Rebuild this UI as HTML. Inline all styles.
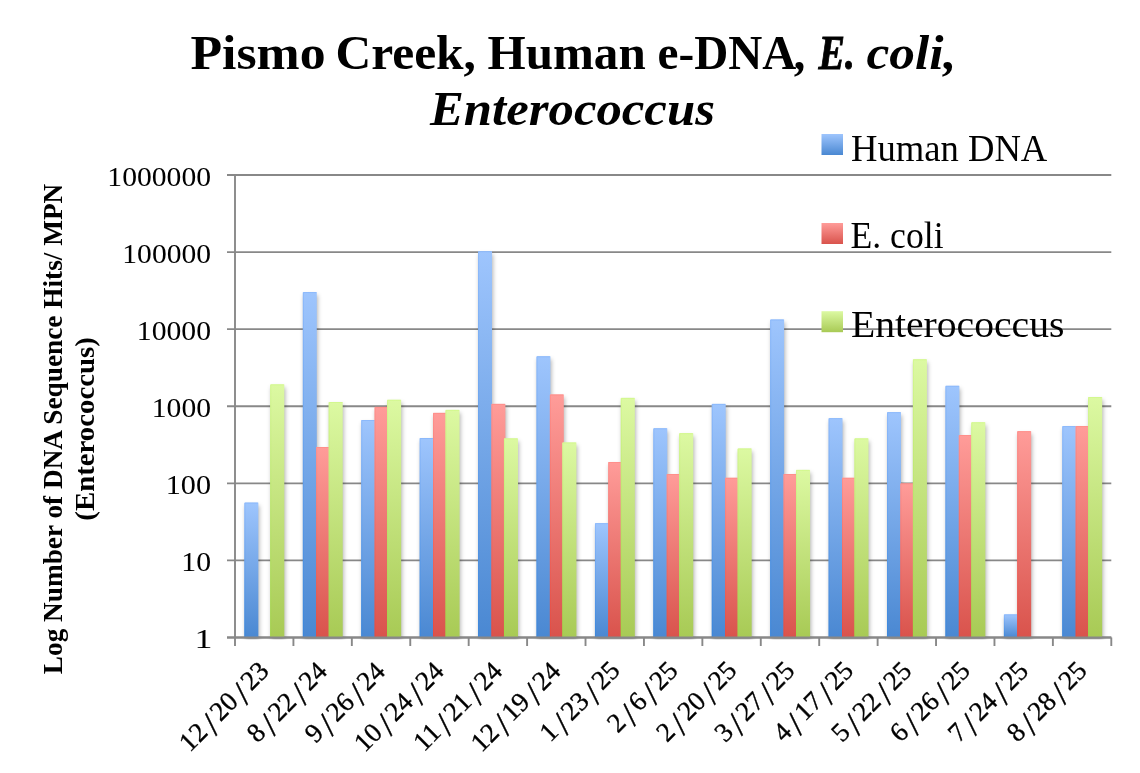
<!DOCTYPE html><html><head><meta charset="utf-8"><style>html,body{margin:0;padding:0;background:#fff;width:1140px;height:773px;overflow:hidden}svg{display:block;will-change:transform;filter:blur(0.45px)}text{font-family:"Liberation Serif",serif;fill:#000}</style></head><body>
<svg width="1140" height="773" viewBox="0 0 1140 773">
<defs>
<linearGradient id="gb" x1="0" y1="0" x2="0" y2="1"><stop offset="0" stop-color="#9ec5fd"/><stop offset="1" stop-color="#4a88d2"/></linearGradient>
<linearGradient id="gr" x1="0" y1="0" x2="0" y2="1"><stop offset="0" stop-color="#ff9c99"/><stop offset="1" stop-color="#d9534c"/></linearGradient>
<linearGradient id="gg" x1="0" y1="0" x2="0" y2="1"><stop offset="0" stop-color="#dcf9a2"/><stop offset="1" stop-color="#a8ca55"/></linearGradient>
<linearGradient id="sb" x1="0" y1="0" x2="0" y2="1"><stop offset="0" stop-color="#8cb9fb"/><stop offset="1" stop-color="#3a86dc"/></linearGradient>
<linearGradient id="sr" x1="0" y1="0" x2="0" y2="1"><stop offset="0" stop-color="#ff8f8b"/><stop offset="1" stop-color="#e64a40"/></linearGradient>
<linearGradient id="sg" x1="0" y1="0" x2="0" y2="1"><stop offset="0" stop-color="#d3f88f"/><stop offset="1" stop-color="#a0d248"/></linearGradient>
<filter id="sh" x="-60%" y="-10%" width="220%" height="120%"><feGaussianBlur in="SourceAlpha" stdDeviation="2.3"/><feOffset dx="1.0" dy="2.5" result="b"/><feFlood flood-color="#000" flood-opacity="0.3"/><feComposite in2="b" operator="in"/></filter>
<clipPath id="cp"><rect x="0" y="0" width="1140" height="639.50"/></clipPath>
</defs>
<rect width="1140" height="773" fill="#fff"/>
<line x1="227" y1="637.50" x2="1111.30" y2="637.50" stroke="#888" stroke-width="1.9"/>
<line x1="227" y1="560.42" x2="1111.30" y2="560.42" stroke="#888" stroke-width="1.9"/>
<line x1="227" y1="483.33" x2="1111.30" y2="483.33" stroke="#888" stroke-width="1.9"/>
<line x1="227" y1="406.25" x2="1111.30" y2="406.25" stroke="#888" stroke-width="1.9"/>
<line x1="227" y1="329.17" x2="1111.30" y2="329.17" stroke="#888" stroke-width="1.9"/>
<line x1="227" y1="252.08" x2="1111.30" y2="252.08" stroke="#888" stroke-width="1.9"/>
<line x1="227" y1="175.00" x2="1111.30" y2="175.00" stroke="#888" stroke-width="1.9"/>
<g clip-path="url(#cp)"><g filter="url(#sh)">
<rect x="244.45" y="502.60" width="13.90" height="134.90"/>
<rect x="270.30" y="384.40" width="14.00" height="253.10"/>
<rect x="302.87" y="292.10" width="13.90" height="345.40"/>
<rect x="316.22" y="447.00" width="13.90" height="190.50"/>
<rect x="328.72" y="402.00" width="14.00" height="235.50"/>
<rect x="361.29" y="420.00" width="13.90" height="217.50"/>
<rect x="374.64" y="406.90" width="13.90" height="230.60"/>
<rect x="387.14" y="399.80" width="14.00" height="237.70"/>
<rect x="419.71" y="438.00" width="13.90" height="199.50"/>
<rect x="433.06" y="412.90" width="13.90" height="224.60"/>
<rect x="445.56" y="409.90" width="14.00" height="227.60"/>
<rect x="478.13" y="251.25" width="13.90" height="386.25"/>
<rect x="491.48" y="403.90" width="13.90" height="233.60"/>
<rect x="503.98" y="438.40" width="14.00" height="199.10"/>
<rect x="536.55" y="356.30" width="13.90" height="281.20"/>
<rect x="549.90" y="394.50" width="13.90" height="243.00"/>
<rect x="562.40" y="442.50" width="14.00" height="195.00"/>
<rect x="594.97" y="523.20" width="13.90" height="114.30"/>
<rect x="608.32" y="462.00" width="13.90" height="175.50"/>
<rect x="620.82" y="397.90" width="14.00" height="239.60"/>
<rect x="653.39" y="428.30" width="13.90" height="209.20"/>
<rect x="666.74" y="474.00" width="13.90" height="163.50"/>
<rect x="679.24" y="433.20" width="14.00" height="204.30"/>
<rect x="711.81" y="403.90" width="13.90" height="233.60"/>
<rect x="725.16" y="477.80" width="13.90" height="159.70"/>
<rect x="737.66" y="448.50" width="14.00" height="189.00"/>
<rect x="770.23" y="319.50" width="13.90" height="318.00"/>
<rect x="783.58" y="474.00" width="13.90" height="163.50"/>
<rect x="796.08" y="469.90" width="14.00" height="167.60"/>
<rect x="828.65" y="418.20" width="13.90" height="219.30"/>
<rect x="842.00" y="477.80" width="13.90" height="159.70"/>
<rect x="854.50" y="438.40" width="14.00" height="199.10"/>
<rect x="887.07" y="412.20" width="13.90" height="225.30"/>
<rect x="900.42" y="483.40" width="13.90" height="154.10"/>
<rect x="912.92" y="359.30" width="14.00" height="278.20"/>
<rect x="945.49" y="385.80" width="13.90" height="251.70"/>
<rect x="958.84" y="435.00" width="13.90" height="202.50"/>
<rect x="971.34" y="422.30" width="14.00" height="215.20"/>
<rect x="1003.91" y="614.40" width="13.90" height="23.10"/>
<rect x="1017.26" y="431.20" width="13.90" height="206.30"/>
<rect x="1062.33" y="426.10" width="13.90" height="211.40"/>
<rect x="1075.68" y="426.10" width="13.90" height="211.40"/>
<rect x="1088.18" y="397.00" width="14.00" height="240.50"/>
</g></g>
<rect x="244.45" y="502.60" width="13.90" height="134.90" fill="url(#gb)"/>
<path d="M244.95,637.50V503.10H257.85" fill="none" stroke="url(#sb)" stroke-width="1"/>
<rect x="270.30" y="384.40" width="14.00" height="253.10" fill="url(#gg)"/>
<path d="M270.80,637.50V384.90H283.80" fill="none" stroke="url(#sg)" stroke-width="1"/>
<rect x="302.87" y="292.10" width="13.90" height="345.40" fill="url(#gb)"/>
<path d="M303.37,637.50V292.60H316.27" fill="none" stroke="url(#sb)" stroke-width="1"/>
<rect x="316.22" y="447.00" width="13.90" height="190.50" fill="url(#gr)"/>
<path d="M316.72,637.50V447.50H329.62" fill="none" stroke="url(#sr)" stroke-width="1"/>
<rect x="328.72" y="402.00" width="14.00" height="235.50" fill="url(#gg)"/>
<path d="M329.22,637.50V402.50H342.22" fill="none" stroke="url(#sg)" stroke-width="1"/>
<rect x="361.29" y="420.00" width="13.90" height="217.50" fill="url(#gb)"/>
<path d="M361.79,637.50V420.50H374.69" fill="none" stroke="url(#sb)" stroke-width="1"/>
<rect x="374.64" y="406.90" width="13.90" height="230.60" fill="url(#gr)"/>
<path d="M375.14,637.50V407.40H388.04" fill="none" stroke="url(#sr)" stroke-width="1"/>
<rect x="387.14" y="399.80" width="14.00" height="237.70" fill="url(#gg)"/>
<path d="M387.64,637.50V400.30H400.64" fill="none" stroke="url(#sg)" stroke-width="1"/>
<rect x="419.71" y="438.00" width="13.90" height="199.50" fill="url(#gb)"/>
<path d="M420.21,637.50V438.50H433.11" fill="none" stroke="url(#sb)" stroke-width="1"/>
<rect x="433.06" y="412.90" width="13.90" height="224.60" fill="url(#gr)"/>
<path d="M433.56,637.50V413.40H446.46" fill="none" stroke="url(#sr)" stroke-width="1"/>
<rect x="445.56" y="409.90" width="14.00" height="227.60" fill="url(#gg)"/>
<path d="M446.06,637.50V410.40H459.06" fill="none" stroke="url(#sg)" stroke-width="1"/>
<rect x="478.13" y="251.25" width="13.90" height="386.25" fill="url(#gb)"/>
<path d="M478.63,637.50V251.75H491.53" fill="none" stroke="url(#sb)" stroke-width="1"/>
<rect x="491.48" y="403.90" width="13.90" height="233.60" fill="url(#gr)"/>
<path d="M491.98,637.50V404.40H504.88" fill="none" stroke="url(#sr)" stroke-width="1"/>
<rect x="503.98" y="438.40" width="14.00" height="199.10" fill="url(#gg)"/>
<path d="M504.48,637.50V438.90H517.48" fill="none" stroke="url(#sg)" stroke-width="1"/>
<rect x="536.55" y="356.30" width="13.90" height="281.20" fill="url(#gb)"/>
<path d="M537.05,637.50V356.80H549.95" fill="none" stroke="url(#sb)" stroke-width="1"/>
<rect x="549.90" y="394.50" width="13.90" height="243.00" fill="url(#gr)"/>
<path d="M550.40,637.50V395.00H563.30" fill="none" stroke="url(#sr)" stroke-width="1"/>
<rect x="562.40" y="442.50" width="14.00" height="195.00" fill="url(#gg)"/>
<path d="M562.90,637.50V443.00H575.90" fill="none" stroke="url(#sg)" stroke-width="1"/>
<rect x="594.97" y="523.20" width="13.90" height="114.30" fill="url(#gb)"/>
<path d="M595.47,637.50V523.70H608.37" fill="none" stroke="url(#sb)" stroke-width="1"/>
<rect x="608.32" y="462.00" width="13.90" height="175.50" fill="url(#gr)"/>
<path d="M608.82,637.50V462.50H621.72" fill="none" stroke="url(#sr)" stroke-width="1"/>
<rect x="620.82" y="397.90" width="14.00" height="239.60" fill="url(#gg)"/>
<path d="M621.32,637.50V398.40H634.32" fill="none" stroke="url(#sg)" stroke-width="1"/>
<rect x="653.39" y="428.30" width="13.90" height="209.20" fill="url(#gb)"/>
<path d="M653.89,637.50V428.80H666.79" fill="none" stroke="url(#sb)" stroke-width="1"/>
<rect x="666.74" y="474.00" width="13.90" height="163.50" fill="url(#gr)"/>
<path d="M667.24,637.50V474.50H680.14" fill="none" stroke="url(#sr)" stroke-width="1"/>
<rect x="679.24" y="433.20" width="14.00" height="204.30" fill="url(#gg)"/>
<path d="M679.74,637.50V433.70H692.74" fill="none" stroke="url(#sg)" stroke-width="1"/>
<rect x="711.81" y="403.90" width="13.90" height="233.60" fill="url(#gb)"/>
<path d="M712.31,637.50V404.40H725.21" fill="none" stroke="url(#sb)" stroke-width="1"/>
<rect x="725.16" y="477.80" width="13.90" height="159.70" fill="url(#gr)"/>
<path d="M725.66,637.50V478.30H738.56" fill="none" stroke="url(#sr)" stroke-width="1"/>
<rect x="737.66" y="448.50" width="14.00" height="189.00" fill="url(#gg)"/>
<path d="M738.16,637.50V449.00H751.16" fill="none" stroke="url(#sg)" stroke-width="1"/>
<rect x="770.23" y="319.50" width="13.90" height="318.00" fill="url(#gb)"/>
<path d="M770.73,637.50V320.00H783.63" fill="none" stroke="url(#sb)" stroke-width="1"/>
<rect x="783.58" y="474.00" width="13.90" height="163.50" fill="url(#gr)"/>
<path d="M784.08,637.50V474.50H796.98" fill="none" stroke="url(#sr)" stroke-width="1"/>
<rect x="796.08" y="469.90" width="14.00" height="167.60" fill="url(#gg)"/>
<path d="M796.58,637.50V470.40H809.58" fill="none" stroke="url(#sg)" stroke-width="1"/>
<rect x="828.65" y="418.20" width="13.90" height="219.30" fill="url(#gb)"/>
<path d="M829.15,637.50V418.70H842.05" fill="none" stroke="url(#sb)" stroke-width="1"/>
<rect x="842.00" y="477.80" width="13.90" height="159.70" fill="url(#gr)"/>
<path d="M842.50,637.50V478.30H855.40" fill="none" stroke="url(#sr)" stroke-width="1"/>
<rect x="854.50" y="438.40" width="14.00" height="199.10" fill="url(#gg)"/>
<path d="M855.00,637.50V438.90H868.00" fill="none" stroke="url(#sg)" stroke-width="1"/>
<rect x="887.07" y="412.20" width="13.90" height="225.30" fill="url(#gb)"/>
<path d="M887.57,637.50V412.70H900.47" fill="none" stroke="url(#sb)" stroke-width="1"/>
<rect x="900.42" y="483.40" width="13.90" height="154.10" fill="url(#gr)"/>
<path d="M900.92,637.50V483.90H913.82" fill="none" stroke="url(#sr)" stroke-width="1"/>
<rect x="912.92" y="359.30" width="14.00" height="278.20" fill="url(#gg)"/>
<path d="M913.42,637.50V359.80H926.42" fill="none" stroke="url(#sg)" stroke-width="1"/>
<rect x="945.49" y="385.80" width="13.90" height="251.70" fill="url(#gb)"/>
<path d="M945.99,637.50V386.30H958.89" fill="none" stroke="url(#sb)" stroke-width="1"/>
<rect x="958.84" y="435.00" width="13.90" height="202.50" fill="url(#gr)"/>
<path d="M959.34,637.50V435.50H972.24" fill="none" stroke="url(#sr)" stroke-width="1"/>
<rect x="971.34" y="422.30" width="14.00" height="215.20" fill="url(#gg)"/>
<path d="M971.84,637.50V422.80H984.84" fill="none" stroke="url(#sg)" stroke-width="1"/>
<rect x="1003.91" y="614.40" width="13.90" height="23.10" fill="url(#gb)"/>
<path d="M1004.41,637.50V614.90H1017.31" fill="none" stroke="url(#sb)" stroke-width="1"/>
<rect x="1017.26" y="431.20" width="13.90" height="206.30" fill="url(#gr)"/>
<path d="M1017.76,637.50V431.70H1030.66" fill="none" stroke="url(#sr)" stroke-width="1"/>
<rect x="1062.33" y="426.10" width="13.90" height="211.40" fill="url(#gb)"/>
<path d="M1062.83,637.50V426.60H1075.73" fill="none" stroke="url(#sb)" stroke-width="1"/>
<rect x="1075.68" y="426.10" width="13.90" height="211.40" fill="url(#gr)"/>
<path d="M1076.18,637.50V426.60H1089.08" fill="none" stroke="url(#sr)" stroke-width="1"/>
<rect x="1088.18" y="397.00" width="14.00" height="240.50" fill="url(#gg)"/>
<path d="M1088.68,637.50V397.50H1101.68" fill="none" stroke="url(#sg)" stroke-width="1"/>
<line x1="235.00" y1="174.00" x2="235.00" y2="646.00" stroke="#888" stroke-width="1.9"/>
<line x1="227" y1="637.50" x2="1111.30" y2="637.50" stroke="#888" stroke-width="1.9"/>
<line x1="293.42" y1="637.50" x2="293.42" y2="646.00" stroke="#888" stroke-width="1.9"/>
<line x1="351.84" y1="637.50" x2="351.84" y2="646.00" stroke="#888" stroke-width="1.9"/>
<line x1="410.26" y1="637.50" x2="410.26" y2="646.00" stroke="#888" stroke-width="1.9"/>
<line x1="468.68" y1="637.50" x2="468.68" y2="646.00" stroke="#888" stroke-width="1.9"/>
<line x1="527.10" y1="637.50" x2="527.10" y2="646.00" stroke="#888" stroke-width="1.9"/>
<line x1="585.52" y1="637.50" x2="585.52" y2="646.00" stroke="#888" stroke-width="1.9"/>
<line x1="643.94" y1="637.50" x2="643.94" y2="646.00" stroke="#888" stroke-width="1.9"/>
<line x1="702.36" y1="637.50" x2="702.36" y2="646.00" stroke="#888" stroke-width="1.9"/>
<line x1="760.78" y1="637.50" x2="760.78" y2="646.00" stroke="#888" stroke-width="1.9"/>
<line x1="819.20" y1="637.50" x2="819.20" y2="646.00" stroke="#888" stroke-width="1.9"/>
<line x1="877.62" y1="637.50" x2="877.62" y2="646.00" stroke="#888" stroke-width="1.9"/>
<line x1="936.04" y1="637.50" x2="936.04" y2="646.00" stroke="#888" stroke-width="1.9"/>
<line x1="994.46" y1="637.50" x2="994.46" y2="646.00" stroke="#888" stroke-width="1.9"/>
<line x1="1052.88" y1="637.50" x2="1052.88" y2="646.00" stroke="#888" stroke-width="1.9"/>
<line x1="1111.30" y1="637.50" x2="1111.30" y2="646.00" stroke="#888" stroke-width="1.9"/>
<rect x="821.5" y="134.00" width="21.5" height="21" fill="url(#gb)"/>
<rect x="821.5" y="223.00" width="21.5" height="21" fill="url(#gr)"/>
<rect x="821.5" y="311.20" width="21.5" height="21" fill="url(#gg)"/>
<text id="t1" font-size="48" font-weight="bold" textLength="135.10" lengthAdjust="spacingAndGlyphs" x="190.42" y="69.00">Pismo</text>
<text id="t2" font-size="48" font-weight="bold" textLength="140.52" lengthAdjust="spacingAndGlyphs" x="335.44" y="69.00">Creek,</text>
<text id="t3" font-size="48" font-weight="bold" textLength="158.26" lengthAdjust="spacingAndGlyphs" x="487.48" y="69.00">Human</text>
<text id="t4" font-size="48" font-weight="bold" textLength="138.74" lengthAdjust="spacingAndGlyphs" x="657.53" y="69.00">e-DNA</text>
<text id="t5" font-size="48" font-weight="bold" font-style="italic" x="795.50" y="69.00">,</text>
<text id="t6" font-size="48" font-weight="bold" font-style="italic" textLength="36.34" lengthAdjust="spacingAndGlyphs" stroke="#000" stroke-width="0.9" x="818.48" y="69.00">E.</text>
<text id="t7" font-size="48" font-weight="bold" font-style="italic" textLength="89.84" lengthAdjust="spacingAndGlyphs" x="866.43" y="69.00">coli,</text>
<text id="t8" font-size="48" font-weight="bold" font-style="italic" textLength="284.91" lengthAdjust="spacingAndGlyphs" x="430.00" y="125.00">Enterococcus</text>
<text id="y0" font-size="28" textLength="17.94" lengthAdjust="spacingAndGlyphs" x="194.62" y="648.40">1</text>
<text id="y1" font-size="28" textLength="29.75" lengthAdjust="spacingAndGlyphs" x="181.31" y="571.33">10</text>
<text id="y2" font-size="28" textLength="45.33" lengthAdjust="spacingAndGlyphs" x="165.75" y="494.27">100</text>
<text id="y3" font-size="28" textLength="59.24" lengthAdjust="spacingAndGlyphs" x="151.82" y="417.20">1000</text>
<text id="y4" font-size="28" textLength="74.25" lengthAdjust="spacingAndGlyphs" x="136.81" y="340.13">10000</text>
<text id="y5" font-size="28" textLength="88.73" lengthAdjust="spacingAndGlyphs" x="122.32" y="263.07">100000</text>
<text id="y6" font-size="28" textLength="103.74" lengthAdjust="spacingAndGlyphs" x="107.32" y="186.00">1000000</text>
<text id="x0" font-size="27.0" stroke="#000" stroke-width="0.35" transform="translate(189.83,752.88) rotate(-45)" x="0" y="0">12<tspan dx="3.36" dy="6.4" font-size="35">/</tspan><tspan dx="3.36" dy="-6.4">20</tspan><tspan dx="3.36" dy="6.4" font-size="35">/</tspan><tspan dx="3.36" dy="-6.4">23</tspan></text>
<text id="x1" font-size="27.0" stroke="#000" stroke-width="0.35" transform="translate(257.47,743.66) rotate(-45)" x="0" y="0">8<tspan dx="3.36" dy="6.4" font-size="35">/</tspan><tspan dx="3.36" dy="-6.4">22</tspan><tspan dx="3.36" dy="6.4" font-size="35">/</tspan><tspan dx="3.36" dy="-6.4">24</tspan></text>
<text id="x2" font-size="27.0" stroke="#000" stroke-width="0.35" transform="translate(315.62,743.93) rotate(-45)" x="0" y="0">9<tspan dx="3.36" dy="6.4" font-size="35">/</tspan><tspan dx="3.36" dy="-6.4">26</tspan><tspan dx="3.36" dy="6.4" font-size="35">/</tspan><tspan dx="3.36" dy="-6.4">24</tspan></text>
<text id="x3" font-size="27.0" stroke="#000" stroke-width="0.35" transform="translate(364.77,753.20) rotate(-45)" x="0" y="0">10<tspan dx="3.36" dy="6.4" font-size="35">/</tspan><tspan dx="3.36" dy="-6.4">24</tspan><tspan dx="3.36" dy="6.4" font-size="35">/</tspan><tspan dx="3.36" dy="-6.4">24</tspan></text>
<text id="x4" font-size="27.0" stroke="#000" stroke-width="0.35" transform="translate(423.92,752.46) rotate(-45)" x="0" y="0">11<tspan dx="3.36" dy="6.4" font-size="35">/</tspan><tspan dx="3.36" dy="-6.4">21</tspan><tspan dx="3.36" dy="6.4" font-size="35">/</tspan><tspan dx="3.36" dy="-6.4">24</tspan></text>
<text id="x5" font-size="27.0" stroke="#000" stroke-width="0.35" transform="translate(481.57,753.24) rotate(-45)" x="0" y="0">12<tspan dx="3.36" dy="6.4" font-size="35">/</tspan><tspan dx="3.36" dy="-6.4">19</tspan><tspan dx="3.36" dy="6.4" font-size="35">/</tspan><tspan dx="3.36" dy="-6.4">24</tspan></text>
<text id="x6" font-size="27.0" stroke="#000" stroke-width="0.35" transform="translate(550.23,743.00) rotate(-45)" x="0" y="0">1<tspan dx="3.36" dy="6.4" font-size="35">/</tspan><tspan dx="3.36" dy="-6.4">23</tspan><tspan dx="3.36" dy="6.4" font-size="35">/</tspan><tspan dx="3.36" dy="-6.4">25</tspan></text>
<text id="x7" font-size="27.0" stroke="#000" stroke-width="0.35" transform="translate(617.87,733.78) rotate(-45)" x="0" y="0">2<tspan dx="3.36" dy="6.4" font-size="35">/</tspan><tspan dx="3.36" dy="-6.4">6</tspan><tspan dx="3.36" dy="6.4" font-size="35">/</tspan><tspan dx="3.36" dy="-6.4">25</tspan></text>
<text id="x8" font-size="27.0" stroke="#000" stroke-width="0.35" transform="translate(667.02,743.05) rotate(-45)" x="0" y="0">2<tspan dx="3.36" dy="6.4" font-size="35">/</tspan><tspan dx="3.36" dy="-6.4">20</tspan><tspan dx="3.36" dy="6.4" font-size="35">/</tspan><tspan dx="3.36" dy="-6.4">25</tspan></text>
<text id="x9" font-size="27.0" stroke="#000" stroke-width="0.35" transform="translate(725.17,743.32) rotate(-45)" x="0" y="0">3<tspan dx="3.36" dy="6.4" font-size="35">/</tspan><tspan dx="3.36" dy="-6.4">27</tspan><tspan dx="3.36" dy="6.4" font-size="35">/</tspan><tspan dx="3.36" dy="-6.4">25</tspan></text>
<text id="x10" font-size="27.0" stroke="#000" stroke-width="0.35" transform="translate(783.82,743.09) rotate(-45)" x="0" y="0">4<tspan dx="3.36" dy="6.4" font-size="35">/</tspan><tspan dx="3.36" dy="-6.4">17</tspan><tspan dx="3.36" dy="6.4" font-size="35">/</tspan><tspan dx="3.36" dy="-6.4">25</tspan></text>
<text id="x11" font-size="27.0" stroke="#000" stroke-width="0.35" transform="translate(841.97,743.36) rotate(-45)" x="0" y="0">5<tspan dx="3.36" dy="6.4" font-size="35">/</tspan><tspan dx="3.36" dy="-6.4">22</tspan><tspan dx="3.36" dy="6.4" font-size="35">/</tspan><tspan dx="3.36" dy="-6.4">25</tspan></text>
<text id="x12" font-size="27.0" stroke="#000" stroke-width="0.35" transform="translate(900.62,743.13) rotate(-45)" x="0" y="0">6<tspan dx="3.36" dy="6.4" font-size="35">/</tspan><tspan dx="3.36" dy="-6.4">26</tspan><tspan dx="3.36" dy="6.4" font-size="35">/</tspan><tspan dx="3.36" dy="-6.4">25</tspan></text>
<text id="x13" font-size="27.0" stroke="#000" stroke-width="0.35" transform="translate(958.78,743.39) rotate(-45)" x="0" y="0">7<tspan dx="3.36" dy="6.4" font-size="35">/</tspan><tspan dx="3.36" dy="-6.4">24</tspan><tspan dx="3.36" dy="6.4" font-size="35">/</tspan><tspan dx="3.36" dy="-6.4">25</tspan></text>
<text id="x14" font-size="27.0" stroke="#000" stroke-width="0.35" transform="translate(1017.42,743.17) rotate(-45)" x="0" y="0">8<tspan dx="3.36" dy="6.4" font-size="35">/</tspan><tspan dx="3.36" dy="-6.4">28</tspan><tspan dx="3.36" dy="6.4" font-size="35">/</tspan><tspan dx="3.36" dy="-6.4">25</tspan></text>
<text id="a1" font-size="28" font-weight="bold" textLength="490.43" lengthAdjust="spacingAndGlyphs" transform="translate(61.70,674.18) rotate(-90)" x="0" y="0">Log Number of DNA Sequence Hits/ MPN</text>
<text id="a2" font-size="28" font-weight="bold" textLength="183.43" lengthAdjust="spacingAndGlyphs" transform="translate(93.80,520.65) rotate(-90)" x="0" y="0">(Enterococcus)</text>
<text id="l1" font-size="37" textLength="196.33" lengthAdjust="spacingAndGlyphs" x="851.01" y="160.80">Human DNA</text>
<text id="l2" font-size="37" textLength="93.06" lengthAdjust="spacingAndGlyphs" x="850.52" y="248.00">E. coli</text>
<text id="l3" font-size="37" textLength="213.46" lengthAdjust="spacingAndGlyphs" x="850.93" y="336.70">Enterococcus</text>
</svg></body></html>
